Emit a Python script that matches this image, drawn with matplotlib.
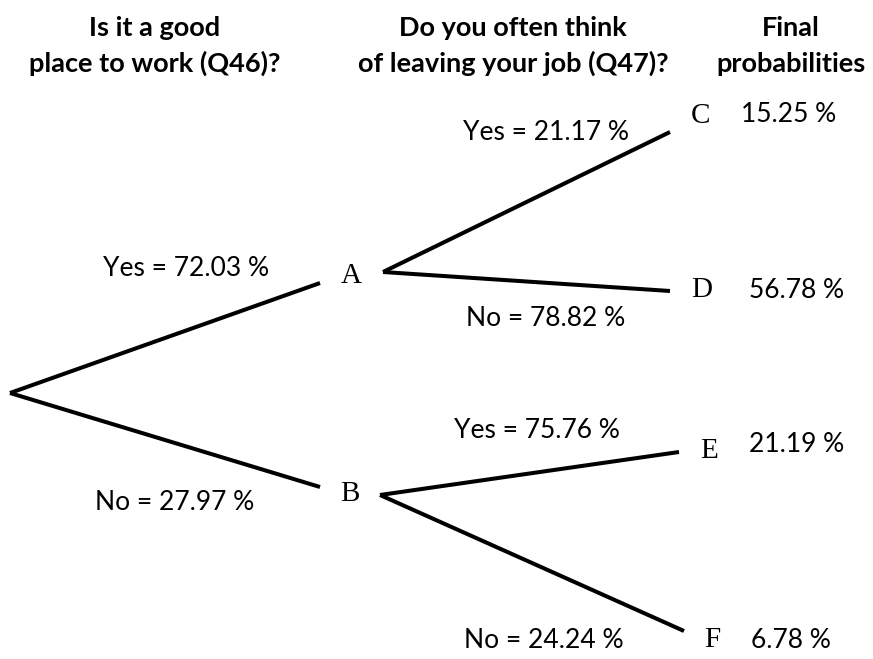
import matplotlib
matplotlib.use("Agg")
import matplotlib.pyplot as plt

# ---- data ----
q46_answers = ["Yes", "No"]
q46_probs = [72.03, 27.97]            # root -> A, root -> B
q47_answers = ["Yes", "No"]
q47_probs_given_A = [21.17, 78.82]    # A -> C, A -> D
q47_probs_given_B = [75.76, 24.24]    # B -> E, B -> F
final_probs = [15.25, 56.78, 21.19, 6.78]  # C, D, E, F
mid_nodes = ["A", "B"]
leaf_nodes = ["C", "D", "E", "F"]
headers = ["Is it a good\nplace to work (Q46)?",
           "Do you often think\nof leaving your job (Q47)?",
           "Final\nprobabilities"]

# ---- layout (pixel coordinates, y downward) ----
W, H = 873, 659
root_pt = (10, 393)
mid_in = [(320, 283), (320, 487)]
mid_out = [(383, 272), (380, 495)]
leaf_in = [(670, 132), (670, 291), (679, 452), (684, 631)]
mid_lbl = [(351, 276), (350, 494)]
leaf_lbl = [(701, 116), (702, 290), (709, 451), (712, 640)]
final_lbl = [(789, 114), (797, 290), (797, 445), (791, 641)]
q46_lbl = [(186, 269), (175, 502)]
q47_lbl = [(546, 133), (546, 318), (537, 430), (544, 640)]
header_pos = [(155, 46), (513, 46), (791, 46)]

fig = plt.figure(figsize=(W / 100, H / 100), dpi=100)
ax = fig.add_axes([0, 0, 1, 1])
ax.set_xlim(0, W)
ax.set_ylim(H, 0)
ax.axis("off")

sans = ["Lato", "DejaVu Sans"]
serif = ["Liberation Serif", "DejaVu Serif"]
lw = 2.9
lab_fs = 19
node_fs = 21

# first level branches
for i in range(2):
    ax.plot([root_pt[0], mid_in[i][0]], [root_pt[1], mid_in[i][1]],
            color="black", lw=lw, solid_capstyle="butt")
    ax.text(*q46_lbl[i], f"{q46_answers[i]} = {q46_probs[i]:.2f} %",
            ha="center", va="center", fontsize=lab_fs, family=sans)
    ax.text(*mid_lbl[i], mid_nodes[i], ha="center", va="center",
            fontsize=node_fs, family=serif)

# second level branches
q47_all = q47_probs_given_A + q47_probs_given_B
for j in range(4):
    parent = j // 2
    ax.plot([mid_out[parent][0], leaf_in[j][0]],
            [mid_out[parent][1], leaf_in[j][1]],
            color="black", lw=lw, solid_capstyle="butt")
    ax.text(*q47_lbl[j], f"{q47_answers[j % 2]} = {q47_all[j]:.2f} %",
            ha="center", va="center", fontsize=lab_fs, family=sans)
    ax.text(*leaf_lbl[j], leaf_nodes[j], ha="center", va="center",
            fontsize=node_fs, family=serif)
    ax.text(*final_lbl[j], f"{final_probs[j]:.2f} %", ha="center",
            va="center", fontsize=lab_fs, family=sans)

for (x, y), t in zip(header_pos, headers):
    ax.text(x, y, t, ha="center", va="center", fontsize=19.5,
            fontweight="bold", family=sans, linespacing=1.55)

fig.savefig("out.png", dpi=100)
